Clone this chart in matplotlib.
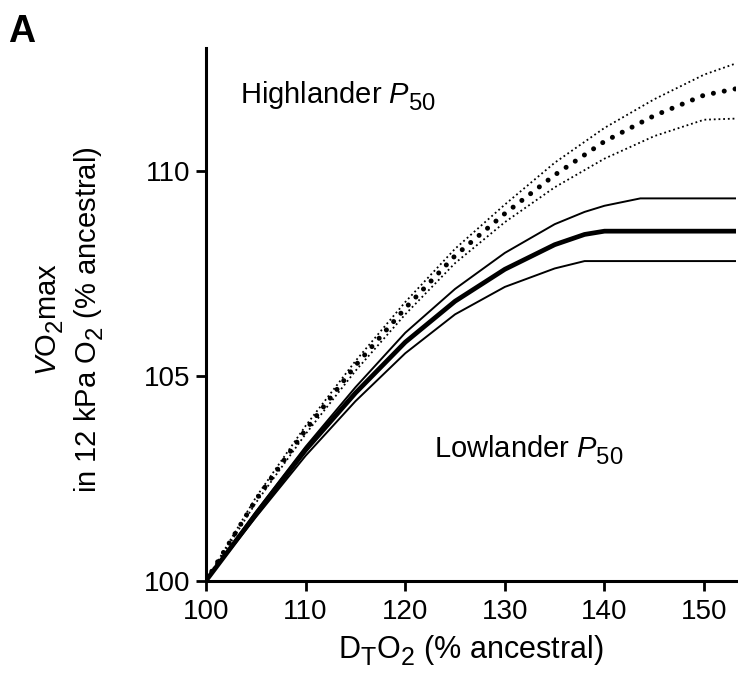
import matplotlib.pyplot as plt
import matplotlib._mathtext as mt

# bigger and lower subscripts, closer to the original figure
mt.SHRINK_FACTOR = 0.82
mt.FontConstantsBase.sub1 = 0.45
mt.FontConstantsBase.sub2 = 0.6

plt.rcParams['font.family'] = ['Liberation Sans', 'DejaVu Sans']
plt.rcParams['mathtext.fontset'] = 'custom'
plt.rcParams['mathtext.rm'] = 'Liberation Sans'
plt.rcParams['mathtext.it'] = 'Liberation Sans:italic'

# DTO2 (% ancestral) and VO2max (% ancestral)
high_x = [100, 105, 110, 115, 120, 125, 130, 135, 140, 145, 150, 153.5]
high_mean = [100, 101.97, 103.68, 105.25, 106.65, 107.93, 108.96, 109.9, 110.72, 111.35, 111.85, 112.02]
high_upper = [100, 102.03, 103.78, 105.36, 106.8, 108.1, 109.18, 110.2, 111.05, 111.75, 112.35, 112.65]
high_lower = [100, 101.9, 103.58, 105.12, 106.5, 107.75, 108.75, 109.6, 110.3, 110.85, 111.25, 111.28]

low_x = [100, 105, 110, 115, 120, 125, 130, 135, 138, 140, 143.6, 153.5]
low_mean = [100, 101.62, 103.19, 104.58, 105.82, 106.82, 107.6, 108.2, 108.45, 108.53, 108.53, 108.53]
low_upper = [100, 101.68, 103.27, 104.72, 106.05, 107.12, 108.0, 108.7, 109.0, 109.15, 109.33, 109.33]
low_lower = [100, 101.55, 103.05, 104.38, 105.55, 106.5, 107.17, 107.62, 107.8, 107.8, 107.8, 107.8]

fig = plt.figure(figsize=(7.38, 6.73), dpi=100)
ax = fig.add_axes([206 / 738, 1 - 580.7 / 673, 530 / 738, (580.7 - 48) / 673])

ax.plot(high_x, high_upper, color='black', lw=1.3, ls=(0, (1, 1.6)))
ax.plot(high_x, high_lower, color='black', lw=1.3, ls=(0, (1, 1.6)))
ax.plot(high_x, high_mean, color='black', lw=3.6, ls=(0, (0.01, 2.2)), dash_capstyle='round')

ax.plot(low_x, low_upper, color='black', lw=1.4)
ax.plot(low_x, low_lower, color='black', lw=1.4)
ax.plot(low_x, low_mean, color='black', lw=3.4)

ax.set_xlim(100, 153.2)
ax.set_ylim(100, 113)
ax.set_xticks([100, 110, 120, 130, 140, 150])
ax.set_yticks([100, 105, 110])
ax.spines['top'].set_visible(False)
ax.spines['right'].set_visible(False)
for s in ['left', 'bottom']:
    ax.spines[s].set_linewidth(2.2)
ax.tick_params(width=2, length=7, labelsize=20, pad=6)
ax.tick_params(axis='y', pad=4)

ax.set_xlabel('D$_\\mathrm{T}$O$_2$ (% ancestral)', fontsize=22, labelpad=6)
ax.set_ylabel('$\\mathit{V}$O$_2$max\nin 12 kPa O$_2$ (% ancestral)', fontsize=21,
              linespacing=1.3)
ax.yaxis.set_label_coords(-0.188, 0.49)

ax.text(0.064, 0.895, 'Highlander $\\mathit{P}_{50}$', transform=ax.transAxes, fontsize=21)
ax.text(0.43, 0.23, 'Lowlander $\\mathit{P}_{50}$', transform=ax.transAxes, fontsize=21)

fig.text(8 / 738, 1 - 42 / 673, 'A', fontsize=27, fontweight='bold')

fig.savefig('out.png', dpi=100)
